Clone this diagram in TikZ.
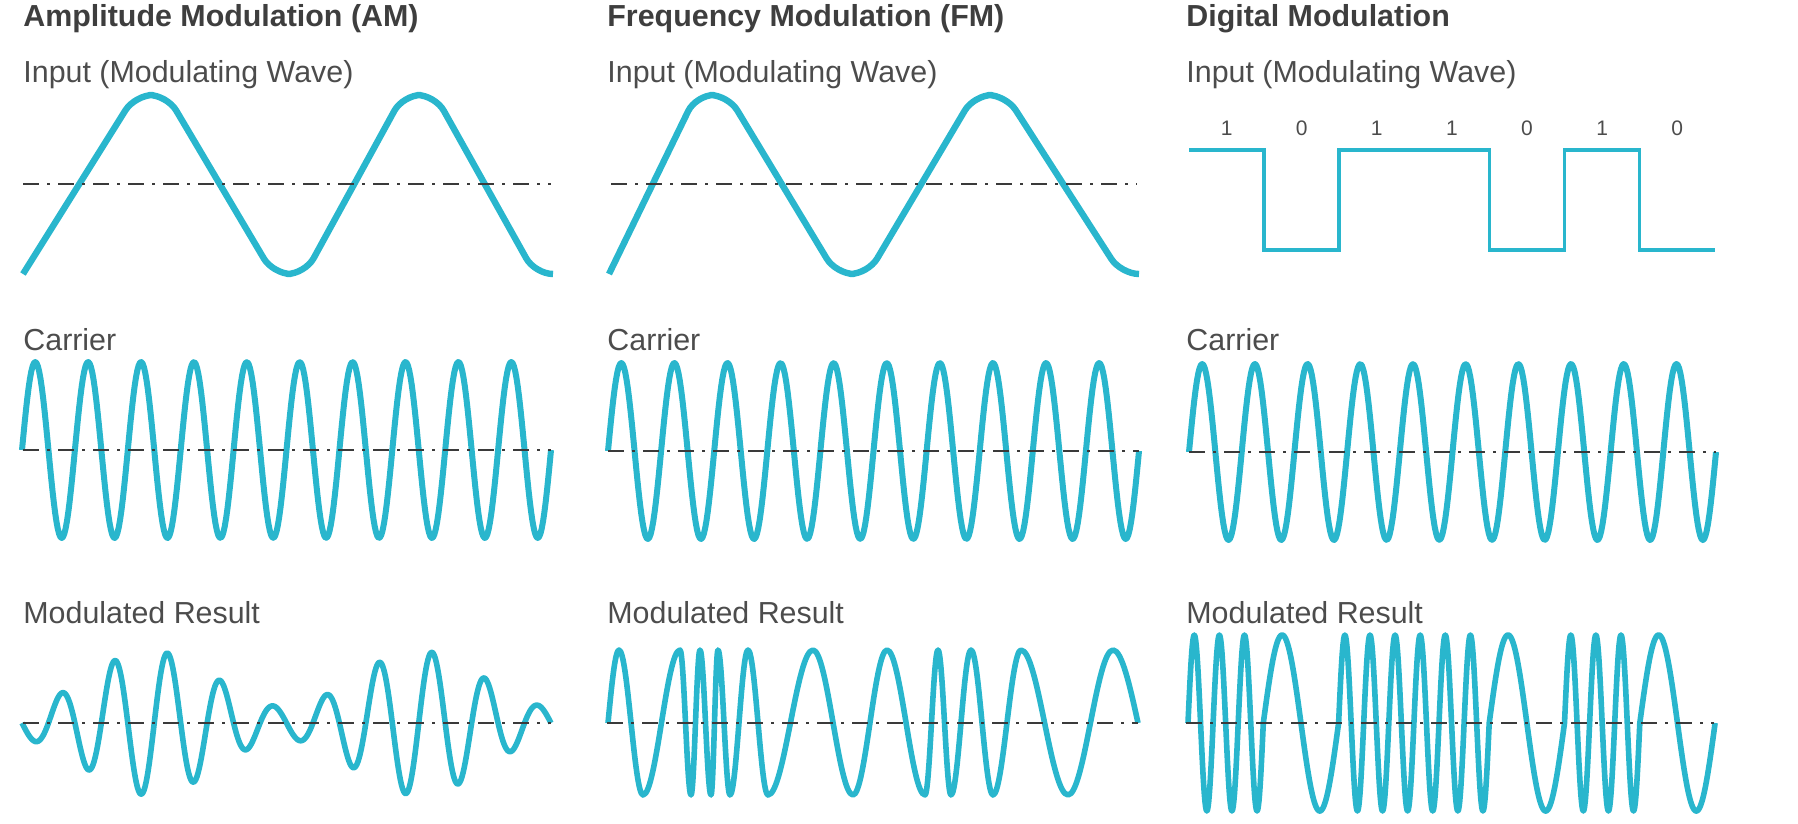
\documentclass[tikz,border=0pt]{standalone}
\usepackage{fontspec}
\setmainfont{Liberation Sans}
\usepackage{tikz}
\definecolor{wavecyan}{RGB}{41,182,205}
\definecolor{axisgray}{RGB}{58,58,58}
\definecolor{titlegray}{RGB}{62,62,62}
\definecolor{textgray}{RGB}{76,76,76}

\begin{document}
\begin{tikzpicture}[x=0.5pt, y=-0.5pt,
  title/.style={anchor=base west, inner sep=0pt, text=titlegray,
                font=\fontsize{15.2}{18}\selectfont\bfseries},
  rowlabel/.style={anchor=base west, inner sep=0pt, text=textgray,
                font=\fontsize{15.2}{18}\selectfont},
  bitlabel/.style={anchor=base, inner sep=0pt, text=textgray,
                font=\fontsize{10.5}{12}\selectfont},
  zeroline/.style={line width=1.25pt, axisgray,
                dash pattern=on 8pt off 4pt on 1.5pt off 4pt},
  inwave/.style={line width=3.2pt, wavecyan, rounded corners=9pt},
  carrier/.style={line width=3pt, wavecyan, line join=round},
  result/.style={line width=2.8pt, wavecyan, line join=round},
  squarewave/.style={line width=1.8pt, wavecyan}
]
\useasboundingbox (0,0) rectangle (1798,824);

\node[title] (am-title) at (23,27)   {Amplitude Modulation (AM)};
\node[title] (fm-title) at (607,27)  {Frequency Modulation (FM)};
\node[title] (dm-title) at (1186,27) {Digital Modulation};

\node[rowlabel] (am-in) at (23,83)   {Input (Modulating Wave)};
\node[rowlabel] (fm-in) at (607,83)  {Input (Modulating Wave)};
\node[rowlabel] (dm-in) at (1186,83) {Input (Modulating Wave)};

\node[rowlabel] (am-car) at (23,350)   {Carrier};
\node[rowlabel] (fm-car) at (607,350)  {Carrier};
\node[rowlabel] (dm-car) at (1186,350) {Carrier};

\node[rowlabel] (am-res) at (23,623)   {Modulated Result};
\node[rowlabel] (fm-res) at (607,623)  {Modulated Result};
\node[rowlabel] (dm-res) at (1186,623) {Modulated Result};

% amplitude modulation
\draw[inwave] (23,274) -- (135,95) -- (167,95) -- (273,274) -- (305,274)
              -- (403,95) -- (435,95) -- (535,274) -- (553,274);
\draw[carrier] plot[domain=22:551, samples=400]
               (\x, {450-88*sin(6.8053*(\x-22))});
\draw[result] plot[domain=22:551, samples=500]
              (\x, {723+(44+28*cos(1.3433*(\x-151)))*sin(6.8053*(\x-22))});
\draw[zeroline] (23,184) -- (551,184);
\draw[zeroline] (23,450) -- (551,450);
\draw[zeroline] (23,723) -- (551,723);

% frequency modulation
\draw[inwave] (609,274) -- (696,95) -- (728,95) -- (836,274) -- (868,274)
              -- (974,95) -- (1006,95) -- (1121,274) -- (1139,274);
\draw[carrier] plot[domain=608:1139, samples=400]
               (\x, {451-88*sin(6.7797*(\x-608))});
\draw[result] (608,723) .. controls +(3.6,-37.4) and +(-3.9,0) .. (619,650)
  foreach \xe/\ye [remember=\xe as \xprev (initially 619)] in
  {643/795, 680/650, 691/795, 700/650, 711/795, 718/650, 730/795, 748/650,
   768/795, 813/650, 853/795, 887/650, 925/795, 938/650, 951/795, 971/650,
   993/795, 1021/650, 1068/795, 1113/650}
  { .. controls +({0.364*(\xe-\xprev)},0) and +({-0.364*(\xe-\xprev)},0) .. (\xe,\ye) }
  .. controls +(8.8,0) and +(-8.2,-37.4) .. (1138,723);
\draw[zeroline] (611,184) -- (1137,184);
\draw[zeroline] (608,451) -- (1139,451);
\draw[zeroline] (607,723) -- (1138,723);

% digital modulation
\foreach \bv [count=\i from 0] in {1,0,1,1,0,1,0}
  \node[bitlabel] (bit\i) at ({1226.6+75.1*\i},135) {\bv};
\draw[squarewave] (1189,150) foreach \bv [count=\i] in {1,0,1,1,0,1,0}
  { |- ({1189+75.1*\i},{250-100*\bv}) };
\draw[carrier] plot[domain=1189:1716, samples=400]
               (\x, {452-88*sin(6.8311*(\x-1189))});
\draw[result] (1188,723) foreach \bv [count=\i from 0] in {1,0,1,1,0,1,0}
  { -- plot[domain=0:75.3, samples=121]
       ({1188+75.3*\i+\x}, {723-88*sin(4.7809*(1+2*\bv)*\x)}) };
\draw[zeroline] (1189,452) -- (1716,452);
\draw[zeroline] (1186,723) -- (1714,723);
\end{tikzpicture}
\end{document}
